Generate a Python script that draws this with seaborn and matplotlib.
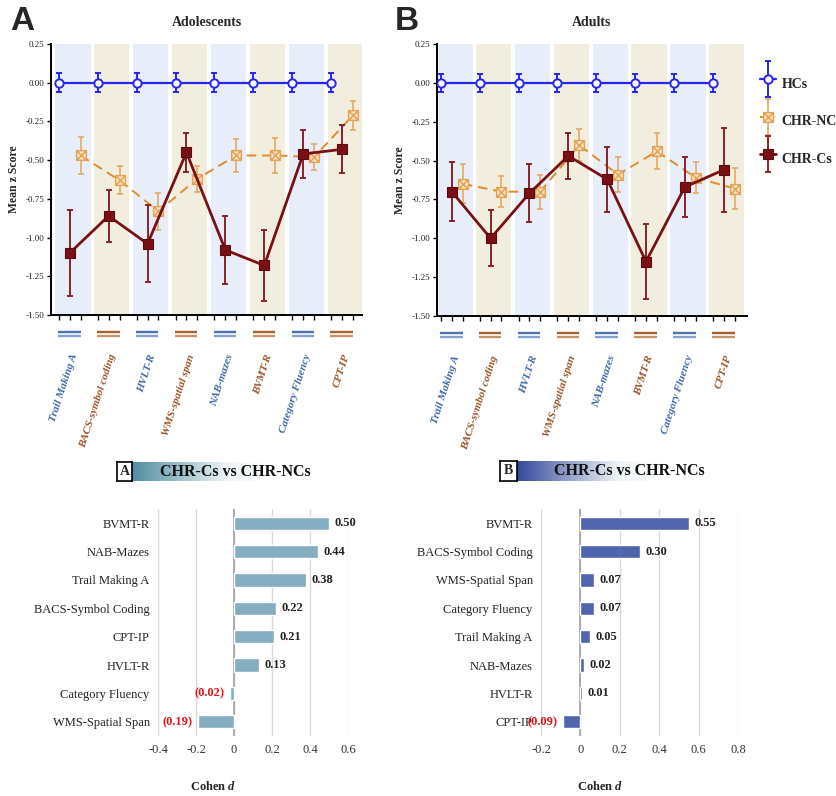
import numpy as np
import pandas as pd
import matplotlib
matplotlib.use("Agg")
import matplotlib.pyplot as plt
import matplotlib.transforms as mtransforms
from matplotlib.path import Path
from matplotlib.colors import LinearSegmentedColormap
from matplotlib.legend_handler import HandlerErrorbar, HandlerTuple
from matplotlib.container import ErrorbarContainer
from matplotlib.ticker import FuncFormatter, MultipleLocator
import seaborn as sns

# ------------------------------------------------------------------ data
tests = ["Trail Making A", "BACS-symbol coding", "HVLT-R", "WMS-spatial span",
         "NAB-mazes", "BVMT-R", "Category Fluency", "CPT-IP"]
test_domain = ["blue", "brown", "blue", "brown", "blue", "brown", "blue", "brown"]

adol_hc = [0.00, 0.00, 0.00, 0.00, 0.00, 0.00, 0.00, 0.00]
adol_hc_err = [0.06, 0.06, 0.06, 0.06, 0.06, 0.06, 0.06, 0.06]
adol_nc = [-0.47, -0.63, -0.83, -0.62, -0.47, -0.47, -0.48, -0.21]
adol_nc_err = [0.12, 0.09, 0.12, 0.085, 0.105, 0.11, 0.085, 0.095]
adol_c = [-1.10, -0.86, -1.04, -0.45, -1.08, -1.18, -0.46, -0.43]
adol_c_err = [0.28, 0.17, 0.25, 0.125, 0.22, 0.23, 0.155, 0.155]

adult_hc = [0.00, 0.00, 0.00, 0.00, 0.00, 0.00, 0.00, 0.00]
adult_hc_err = [0.06, 0.06, 0.06, 0.06, 0.06, 0.06, 0.06, 0.06]
adult_nc = [-0.65, -0.70, -0.70, -0.40, -0.59, -0.44, -0.61, -0.68]
adult_nc_err = [0.125, 0.10, 0.11, 0.10, 0.115, 0.115, 0.10, 0.13]
adult_c = [-0.70, -1.00, -0.71, -0.47, -0.62, -1.15, -0.67, -0.56]
adult_c_err = [0.19, 0.18, 0.185, 0.15, 0.21, 0.24, 0.19, 0.27]

es_a_labels = ["BVMT-R", "NAB-Mazes", "Trail Making A", "BACS-Symbol Coding",
               "CPT-IP", "HVLT-R", "Category Fluency", "WMS-Spatial Span"]
es_a_values = [0.50, 0.44, 0.38, 0.22, 0.21, 0.13, -0.02, -0.19]
es_b_labels = ["BVMT-R", "BACS-Symbol Coding", "WMS-Spatial Span", "Category Fluency",
               "Trail Making A", "NAB-Mazes", "HVLT-R", "CPT-IP"]
es_b_values = [0.55, 0.30, 0.07, 0.07, 0.05, 0.02, 0.01, -0.09]

# ------------------------------------------------------------------ style
sns.set_theme(style="white")
plt.rcParams["font.family"] = ["Liberation Serif", "DejaVu Serif"]
plt.rcParams["axes.unicode_minus"] = False
plt.rcParams["mathtext.fontset"] = "custom"
plt.rcParams["mathtext.it"] = "Liberation Serif:italic:bold"
plt.rcParams["mathtext.rm"] = "Liberation Serif:bold"

W, H = 836, 796
fig = plt.figure(figsize=(W / 100, H / 100), dpi=100)
fig.patch.set_facecolor("white")


def px_axes(x0, y0, x1, y1):
    return fig.add_axes([x0 / W, 1 - y1 / H, (x1 - x0) / W, (y1 - y0) / H])


BAND = {"blue": "#e8eef9", "brown": "#f2eedf"}
LINE_TOP = {"blue": "#4d72b0", "brown": "#a5622e"}
LINE_BOT = {"blue": "#86a2cf", "brown": "#c4946a"}
LABEL_COL = {"blue": "#4167aa", "brown": "#9a5426"}
HC_COL = "#2626f2"
NC_COL = "#e38b2c"
NC_EDGE = "#e3a456"
C_COL = "#7a1014"
C_ERR = "#8a2328"
OFF = {"HC": -0.36, "C": -0.08, "NC": 0.20}

box_x = Path([(-1, -1), (1, -1), (1, 1), (-1, 1), (-1, -1),
              (-1, -1), (1, 1), (-1, 1), (1, -1)],
             [Path.MOVETO, Path.LINETO, Path.LINETO, Path.LINETO, Path.CLOSEPOLY,
              Path.MOVETO, Path.LINETO, Path.MOVETO, Path.LINETO])


def draw_profile(ax, hc, hc_err, nc, nc_err, c, c_err, title, xlim):
    idx = np.arange(len(tests))
    for i, dom in zip(idx, test_domain):
        ax.axvspan(i - 0.455, i + 0.455, color=BAND[dom], lw=0, zorder=0)

    handles = []
    # HCs
    x = idx + OFF["HC"]
    e = ax.errorbar(x, hc, yerr=hc_err, fmt="none", ecolor=HC_COL, elinewidth=1.4,
                    capsize=2.5, capthick=1.4, zorder=3)
    sns.lineplot(x=x, y=hc, ax=ax, color=HC_COL, lw=1.6, marker="o", markersize=6,
                 markerfacecolor="white", markeredgecolor=HC_COL, markeredgewidth=1.4,
                 zorder=4)
    handles.append((e, ax.lines[-1]))
    # CHR-NCs
    x = idx + OFF["NC"]
    e = ax.errorbar(x, nc, yerr=nc_err, fmt="none", ecolor=NC_EDGE, elinewidth=1.1,
                    capsize=2, capthick=1.1, zorder=3)
    sns.lineplot(x=x, y=nc, ax=ax, color=NC_COL, lw=1.4, linestyle=(0, (5, 3)),
                 marker=box_x, markersize=7, markerfacecolor="#f8e3c6",
                 markeredgecolor=NC_EDGE, markeredgewidth=1.1, zorder=4)
    handles.append((e, ax.lines[-1]))
    # CHR-Cs
    x = idx + OFF["C"]
    e = ax.errorbar(x, c, yerr=c_err, fmt="none", ecolor=C_ERR, elinewidth=1.4,
                    capsize=2, capthick=1.4, zorder=5)
    sns.lineplot(x=x, y=c, ax=ax, color=C_COL, lw=2.0, marker="s", markersize=6.5,
                 markerfacecolor=C_COL, markeredgecolor="#5a0a0c", markeredgewidth=0.8,
                 zorder=6)
    handles.append((e, ax.lines[-1]))

    ax.set_xlim(*xlim)
    ax.set_ylim(-1.5, 0.25)
    ax.yaxis.set_major_locator(MultipleLocator(0.25))
    ax.yaxis.set_major_formatter(FuncFormatter(lambda v, _: f"{v:.2f}"))
    allx = np.sort(np.concatenate([idx + OFF["HC"], idx + OFF["C"], idx + OFF["NC"]]))
    ax.set_xticks(allx)
    ax.set_xticklabels([])
    ax.tick_params(axis="x", length=3.5, width=1, direction="out", color="black", bottom=True)
    ax.tick_params(axis="y", length=3, width=1, direction="out", color="black", left=True,
                   labelsize=6.5, pad=2, labelcolor="#222222")
    for s in ["top", "right"]:
        ax.spines[s].set_visible(False)
    for s in ["left", "bottom"]:
        ax.spines[s].set_color("black")
        ax.spines[s].set_linewidth(1.4)
    ax.set_ylabel("Mean z Score", fontsize=8.5, weight="bold", labelpad=4)
    ax.set_xlabel("")
    ax.set_title(title, fontsize=10, weight="bold", pad=13)

    trans = mtransforms.blended_transform_factory(ax.transData, ax.transAxes)
    for i, (name, dom) in enumerate(zip(tests, test_domain)):
        ax.plot([i - 0.38, i + 0.20], [-0.063, -0.063], transform=trans, clip_on=False,
                color=LINE_TOP[dom], lw=1.7, solid_capstyle="butt")
        ax.plot([i - 0.38, i + 0.20], [-0.079, -0.079], transform=trans, clip_on=False,
                color=LINE_BOT[dom], lw=1.7, solid_capstyle="butt")
        ax.text(i + 0.05, -0.145, name, transform=trans, rotation=72,
                rotation_mode="anchor", ha="right", va="center", fontsize=8,
                style="italic", weight="bold", color=LABEL_COL[dom])
    return handles


ax1 = px_axes(51, 44, 362, 315)
draw_profile(ax1, adol_hc, adol_hc_err, adol_nc, adol_nc_err, adol_c, adol_c_err,
             "Adolescents", (-0.56, 7.43))
ax2 = px_axes(437, 44, 747, 316)
hnd = draw_profile(ax2, adult_hc, adult_hc_err, adult_nc, adult_nc_err, adult_c, adult_c_err,
                   "Adults", (-0.46, 7.52))

fig.legend(hnd, ["HCs", "CHR-NCs", "CHR-Cs"], loc="upper left",
           bbox_to_anchor=(754 / W, 1 - 65 / H), frameon=False,
           handler_map={tuple: HandlerTuple(ndivide=1),
                        ErrorbarContainer: HandlerErrorbar(yerr_size=1.3)},
           handlelength=1.2, handleheight=2.6, labelspacing=0.75, handletextpad=0.4,
           borderaxespad=0, prop={"family": "Liberation Serif", "weight": "bold", "size": 10})

fig.text(10 / W, 1 - 6 / H, "A", fontsize=24, weight="bold", family="Liberation Sans", va="top")
fig.text(395 / W, 1 - 6 / H, "B", fontsize=24, weight="bold", family="Liberation Sans", va="top")


# ------------------------------------------------------------------ effect sizes
def draw_es(ax, labels, values, color, xlim, xticks, xlabel_x):
    sns.barplot(x=values, y=labels, orient="h", color=color, width=0.47, ax=ax,
                saturation=1, zorder=3)
    ax.set_xlim(*xlim)
    ax.set_xticks(xticks)
    ax.xaxis.set_major_formatter(FuncFormatter(lambda v, _: f"{v:g}"))
    ax.grid(axis="x", color="#d9d9d9", lw=1)
    ax.grid(axis="y", visible=False)
    ax.set_axisbelow(True)
    ax.axvline(0, color="#a8a8a8", lw=1.3, zorder=2)
    for s in ax.spines.values():
        s.set_visible(False)
    ax.tick_params(axis="x", length=0, labelsize=9, labelcolor="#333333", pad=6)
    ax.tick_params(axis="y", length=0, labelsize=9, labelcolor="#222222", pad=6)
    ax.set_ylabel("")
    ax.set_xlabel(r"Cohen $\mathit{d}$", fontsize=9, weight="bold", labelpad=17)
    ax.xaxis.label.set_x(xlabel_x)
    texts = ax.bar_label(ax.containers[0],
                         labels=[f"{v:.2f}" if v >= 0 else f"({abs(v):.2f})" for v in values],
                         padding=4, fontsize=9, weight="bold", color="#222222")
    for t, v in zip(texts, values):
        if v < 0:
            t.set_color("#e0141c")


ax3 = px_axes(158, 509, 348, 736)
draw_es(ax3, es_a_labels, es_a_values, "#86aec3", (-0.4, 0.6),
        [-0.4, -0.2, 0, 0.2, 0.4, 0.6], 0.29)
ax4 = px_axes(541, 509, 738, 736)
draw_es(ax4, es_b_labels, es_b_values, "#5065ae", (-0.2, 0.8),
        [-0.2, 0, 0.2, 0.4, 0.6, 0.8], 0.30)


def title_box(letter, bx0, bx1, gx1, y0, y1, color, text_xc):
    gax = px_axes(bx1, y0, gx1, y1)
    cmap = LinearSegmentedColormap.from_list(
        "g", [(0, color), (0.55, "#eef4f6"), (0.8, "#ffffff"), (1, "#ffffff")])
    gax.imshow(np.linspace(0, 1, 256)[None, :], aspect="auto", cmap=cmap,
               extent=[0, 1, 0, 1])
    gax.set_axis_off()
    bax = px_axes(bx0, y0, bx1, y1)
    bax.set_facecolor("white")
    bax.set_xticks([])
    bax.set_yticks([])
    for s in bax.spines.values():
        s.set_visible(True)
        s.set_color("black")
        s.set_linewidth(1.2)
    bax.text(0.5, 0.5, letter, ha="center", va="center", fontsize=10, weight="bold",
             transform=bax.transAxes)
    fig.text(text_xc / W, 1 - (y0 + y1) / 2 / H, "CHR-Cs vs CHR-NCs", ha="center",
             va="center", fontsize=11.5, weight="bold", color="#111111")


title_box("A", 117, 132, 305, 462, 481, "#4f8ea2", 235)
title_box("B", 500, 517, 700, 461, 481, "#34499c", 629)

fig.savefig("out.png", dpi=100, facecolor="white")
